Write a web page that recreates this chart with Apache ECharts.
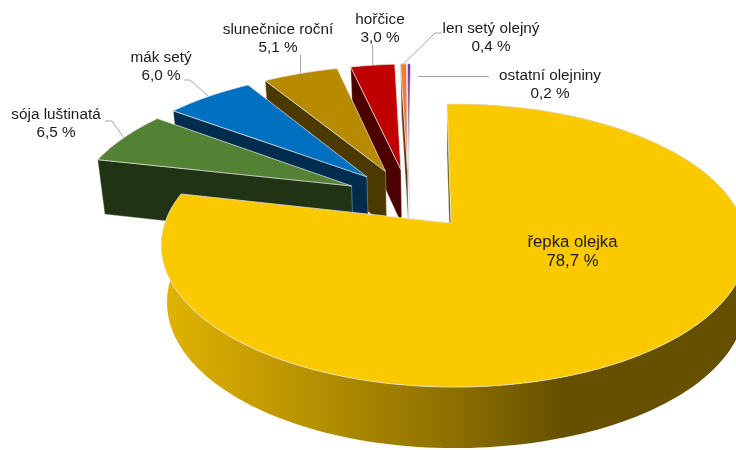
<!DOCTYPE html>
<html>
<head>
<meta charset="utf-8">
<style>html,body{margin:0;padding:0;background:#fff}#chart{width:736px;height:450px}</style>
<script src="https://cdn.jsdelivr.net/npm/echarts@6/dist/echarts.min.js"></script>
</head>
<body>
<div id="chart"></div>
<script>
// Oilseed crops: share of sown area, in per cent
const cropNames = ['řepka olejka', 'sója luštinatá', 'mák setý', 'slunečnice roční', 'hořčice', 'len setý olejný', 'ostatní olejniny'];
const cropShares = [78.7, 6.5, 6.0, 5.1, 3.0, 0.4, 0.2];
const topColors = ['#FBC900', '#548235', '#0070C0', '#B88A00', '#C00000', '#ED7D31', '#7030A0'];
const wallColors = ['#665100', '#213315', '#002C4D', '#4C3900', '#4D0000', '#5F3214', '#2D1340'];

// label centre and the elbow of its leader line (a null x means straight above the slice)
const labelCentres = [[572.5, 251.5], [56, 124], [161, 67], [278, 39], [380, 29], [491, 38], [550, 85]];
const leaderElbows = [null, [112, 121], [190, 80], [null, 55], [null, 45], [435, 33], null];

// perspective of the pie plane
const view = { cx: 451, cy: 223, ax: 289, ay: 138, k: 0.159, q: 0.01, pull: 0.24, explode: 0.23, startDeg: -0.9 };
const fontFamily = '"Liberation Sans", Arial, sans-serif';

const total = cropShares.reduce((a, b) => a + b, 0);
const spans = [];
cropShares.reduce((start, v) => {
  const end = start + v / total * 360;
  spans.push([start, end]);
  return end;
}, view.startDeg);

const rad = d => d * Math.PI / 180;
const dir = d => [Math.sin(rad(d)), -Math.cos(rad(d))];

// the first slice is pulled away from the pie centre like all the others,
// so the pie centre sits behind that slice's apex
const firstMid = dir((spans[0][0] + spans[0][1]) / 2);
function apexOf(i) {
  if (i === 0) return [0, 0];
  const m = dir((spans[i][0] + spans[i][1]) / 2);
  return [m[0] * view.explode - firstMid[0] * view.pull, m[1] * view.explode - firstMid[1] * view.pull];
}
function depthOf(p) {
  return 1 - view.k * p[1] - view.q * p[0];
}
function project(p) {
  const w = depthOf(p);
  return [view.cx + view.ax * p[0] / w, view.cy + view.ay * p[1] / w];
}
// the same plane point on the underside of the pie
function projectLow(p) {
  const t = project(p);
  const shrink = t[0] < view.cx ? 0.98 : 0.995;
  return [view.cx + (t[0] - view.cx) * shrink, t[1] + 61 - (depthOf(p) - 0.841) * 26];
}
function rimPoint(i, deg) {
  const a = apexOf(i), d = dir(deg);
  return [a[0] + d[0], a[1] + d[1]];
}
function arc(i, from, to) {
  const steps = Math.max(2, Math.ceil(Math.abs(to - from) / 1.5));
  const pts = [];
  for (let s = 0; s <= steps; s++) pts.push(rimPoint(i, from + (to - from) * s / steps));
  return pts;
}
const edge = { stroke: 'rgba(232,232,232,0.9)', lineWidth: 0.8 };

function renderSlice(params, api) {
  const i = api.value(0);
  const [from, to] = spans[i];
  const apex = apexOf(i);
  const rimPts = arc(i, from, to);
  const children = [];

  if (i === 0) {
    // outer curved wall, shaded from left to right
    const low = rimPts.map(projectLow).reverse();
    children.push({
      type: 'polygon',
      shape: { points: rimPts.map(project).concat(low) },
      style: {
        fill: {
          type: 'linear', x: 160, y: 0, x2: 736, y2: 0, global: true,
          colorStops: [
            { offset: 0, color: '#E2B400' },
            { offset: 0.5, color: '#8F7100' },
            { offset: 0.7, color: '#655000' },
            { offset: 1, color: '#655000' }
          ]
        }
      }
    });
  }
  // radial wall along the starting edge
  children.push({
    type: 'polygon',
    shape: { points: [project(rimPts[0]), project(apex), projectLow(apex), projectLow(rimPts[0])] },
    style: { fill: wallColors[i], stroke: 'rgba(232,232,232,0.6)', lineWidth: 0.6 }
  });
  // top face
  children.push({
    type: 'polygon',
    shape: { points: [project(apex)].concat(rimPts.map(project)) },
    style: Object.assign({ fill: topColors[i] }, edge)
  });
  return { type: 'group', children };
}

function renderLabel(params, api) {
  const i = api.value(0);
  const c = labelCentres[i];
  const children = [];
  if (leaderElbows[i]) {
    const rim = project(rimPoint(i, (spans[i][0] + spans[i][1]) / 2));
    const e = [leaderElbows[i][0] === null ? rim[0] : leaderElbows[i][0], leaderElbows[i][1]];
    const start = i === 5 ? [e[0] + 7, e[1]] : i === 2 ? [e[0] - 6, e[1]] : i === 1 ? [e[0] - 7, e[1]] : e;
    children.push({
      type: 'polyline',
      shape: { points: [start, e, rim] },
      style: { fill: 'none', stroke: '#A6A6A6', lineWidth: 1 }
    });
  }
  if (i === 6) {
    children.push({
      type: 'line',
      shape: { x1: 418, y1: 76.5, x2: 489, y2: 76.5 },
      style: { stroke: '#A6A6A6', lineWidth: 1.2 }
    });
  }
  children.push({
    type: 'text',
    style: {
      x: c[0], y: c[1],
      text: cropNames[i] + '\n' + cropShares[i].toFixed(1).replace('.', ',') + ' %',
      font: (i === 0 ? '16.7px ' : '15.3px ') + fontFamily,
      fill: '#1a1a1a', align: 'center', verticalAlign: 'middle', lineHeight: i === 0 ? 19 : 18
    }
  });
  return { type: 'group', children };
}

// painted from the back of the fan to the front
const backToFront = cropShares.map((v, i) => i).reverse();

const chart = echarts.init(document.getElementById('chart'), null, { renderer: 'canvas' });
chart.setOption({
  animation: false,
  series: [
    { type: 'custom', coordinateSystem: 'none', renderItem: renderSlice, data: backToFront.map(i => [i]), z: 2 },
    { type: 'custom', coordinateSystem: 'none', renderItem: renderLabel, data: backToFront.map(i => [i]), z: 3 }
  ]
});
</script>
</body>
</html>
